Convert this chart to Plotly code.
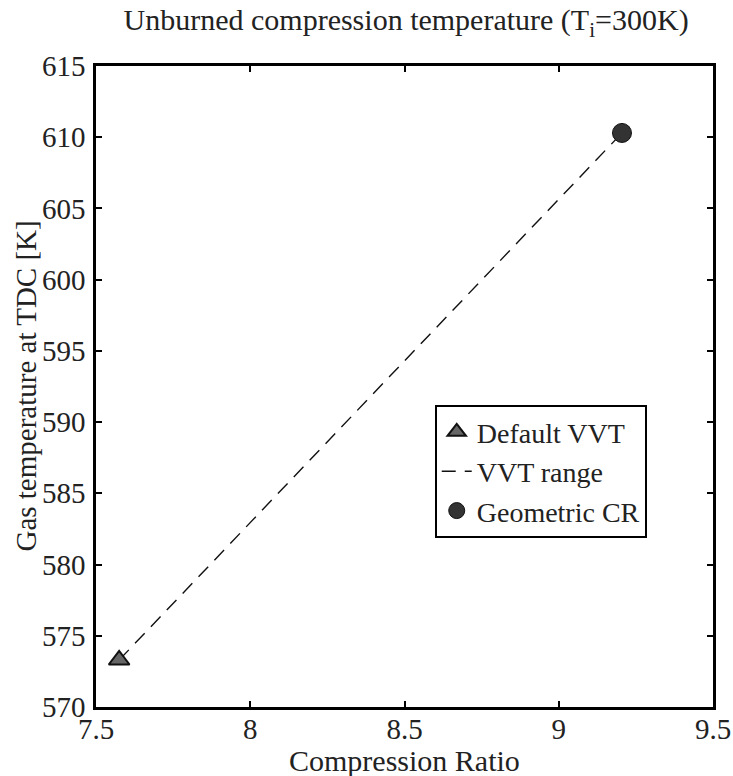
import plotly.graph_objects as go

cr_default = [7.575]
t_default = [573.3]
cr_geom = [9.205]
t_geom = [610.3]
cr_range = [7.575, 9.205]
t_range = [573.3, 610.3]

FONT = "Liberation Serif"

fig = go.Figure()
fig.add_trace(go.Scatter(x=cr_range, y=t_range, mode="lines", name="VVT range", legendrank=2,
                         line=dict(color="#111111", width=1.4, dash="14px,9px")))
fig.add_trace(go.Scatter(x=cr_default, y=t_default, mode="markers", name="Default VVT", legendrank=1,
                         marker=dict(symbol="triangle-up", size=18, color="#666666",
                                     line=dict(color="#111111", width=2))))
fig.add_trace(go.Scatter(x=cr_geom, y=t_geom, mode="markers", name="Geometric CR", legendrank=3,
                         marker=dict(symbol="circle", size=19, color="#333333",
                                     line=dict(color="#111111", width=1))))

axis_common = dict(showline=True, linecolor="black", linewidth=2.5, mirror="ticks",
                   ticks="inside", ticklen=6, tickwidth=2, tickcolor="black",
                   showgrid=False, zeroline=False, automargin=False,
                   tickfont=dict(family=FONT, size=29, color="#222222"))

fig.update_layout(
    width=733, height=776,
    margin=dict(l=96, r=20, t=66, b=69),
    paper_bgcolor="white", plot_bgcolor="white",
    font=dict(family=FONT, color="#222222"),
    title=dict(text="Unburned compression temperature (T<sub>i</sub>=300K)",
               x=0.554, xanchor="center", y=0.988, yanchor="top",
               font=dict(family=FONT, size=30, color="#222222")),
    xaxis=dict(range=[7.5, 9.5], tickvals=[7.5, 8, 8.5, 9, 9.5],
               ticktext=["7.5", "8", "8.5", "9", "9.5"],
               ticklabelstandoff=-6,
               **axis_common),
    yaxis=dict(range=[570, 615], tickvals=list(range(570, 616, 5)),
               ticklabelstandoff=2,
               **axis_common),
    legend=dict(x=0.549, y=0.471, xanchor="left", yanchor="top",
                bgcolor="white", bordercolor="black", borderwidth=2,
                font=dict(family=FONT, size=28, color="#222222"),
                traceorder="normal", itemwidth=30, tracegroupgap=0),
    showlegend=True,
    annotations=[
        dict(text="Compression Ratio", xref="paper", yref="paper", x=0.5, y=-0.084,
             xanchor="center", yanchor="middle", showarrow=False,
             font=dict(family=FONT, size=30, color="#222222")),
        dict(text="Gas temperature at TDC [K]", xref="paper", yref="paper", x=-0.115, y=0.5,
             xanchor="center", yanchor="middle", showarrow=False, textangle=-90,
             font=dict(family=FONT, size=29, color="#222222")),
    ],
)

fig.write_html("out.html")
